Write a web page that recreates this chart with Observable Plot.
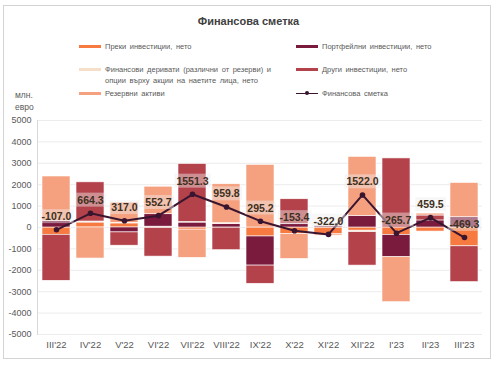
<!DOCTYPE html>
<html>
<head>
<meta charset="utf-8">
<script src="https://cdn.jsdelivr.net/npm/d3@7"></script>
<script src="https://cdn.jsdelivr.net/npm/@observablehq/plot@0.6"></script>
<style>
  body { margin: 0; background: #fff; font-family: "Liberation Sans", Arial, sans-serif; }
  #wrap { position: relative; width: 497px; height: 365px; overflow: hidden; }
  #frame { position: absolute; left: 3px; top: 5px; width: 488px; height: 354px; border: 1px solid #d4d4d4; box-sizing: border-box; }
  #title { position: absolute; left: 0; width: 497px; top: 15px; text-align: center; font-weight: bold; font-size: 11px; color: #404040; }
  .lg { position: absolute; font-size: 7.5px; color: #595959; line-height: 11px; word-spacing: 1.5px; }
  .sw { position: absolute; width: 22px; height: 3px; }
  #unit { position: absolute; left: 15px; top: 89px; font-size: 8.5px; color: #595959; line-height: 12px; }
  #chart { position: absolute; left: 0; top: 110px; }
</style>
</head>
<body>
<div id="wrap">
  <div id="frame"></div>
  <div id="title">Финансова сметка</div>
  <div id="legend"></div>
  <div id="unit">млн.<br>евро</div>
  <div id="chart"></div>
</div>
<script>
const months = ["III'22","IV'22","V'22","VI'22","VII'22","VIII'22","IX'22","X'22","XI'22","XII'22","I'23","II'23","III'23"];
const netValues = [-107.0, 664.3, 317.0, 552.7, 1551.3, 959.8, 295.2, -153.4, -322.0, 1522.0, -265.7, 459.5, -469.3];
const direct = [-340, 230, 190, 40, -100, -10, -420, -300, -320, -150, -350, -190, -880];
const portfolio = [300, 30, -230, 580, 230, 160, -1360, 160, 60, 545, -1040, 330, 480];
const derivatives = [0, 20, 30, -20, 30, 40, 0, 0, 0, -70, 0, 0, 0];
const other = [-2150, 1830, -620, -1340, 2710, -1050, -850, 1160, 0, -1560, 3228, 230, -1670];
const reserves = [2083, -1450, 943, 1287, -1320, 1820, 2925, -1170, -60, 2757, -2100, 90, 1600];
const seriesNames = ["Преки инвестиции, нето", "Портфейлни инвестиции, нето", "Финансови деривати (различни от резерви) и опции върху акции на наетите лица, нето", "Други инвестиции, нето", "Резервни активи"];
const lineName = "Финансова сметка";
const seriesColors = ["#F77A40", "#7A1A3D", "#F5DFC8", "#B4424A", "#F5A07E"];
const lineColor = "#3A1530";
const yTicks = [-5000,-4000,-3000,-2000,-1000,0,1000,2000,3000,4000,5000];

const seriesValues = [direct, portfolio, derivatives, other, reserves];
const rows = [];
seriesNames.forEach((s, si) => months.forEach((m, mi) => rows.push({month: m, series: s, value: seriesValues[si][mi]})));
const netRows = months.map((m, i) => ({month: m, value: netValues[i]}));

// Legend (HTML)
const legend = document.getElementById("legend");
const legendItems = [
  {kind: "bar", color: seriesColors[0], text: seriesNames[0], x: 79, y: 41},
  {kind: "bar", color: seriesColors[1], text: seriesNames[1], x: 296, y: 41},
  {kind: "bar", color: seriesColors[2], text: "Финансови деривати (различни от резерви) и<br>опции върху акции на наетите лица, нето", x: 79, y: 64},
  {kind: "bar", color: seriesColors[3], text: seriesNames[3], x: 296, y: 64},
  {kind: "bar", color: seriesColors[4], text: seriesNames[4], x: 79, y: 88},
  {kind: "line", color: lineColor, text: lineName, x: 296, y: 88}
];
legendItems.forEach(it => {
  const sw = document.createElement("div");
  sw.className = "sw";
  sw.style.left = it.x + "px";
  if (it.kind === "bar") {
    sw.style.top = (it.y + 4) + "px";
    sw.style.background = it.color;
  } else {
    sw.style.top = (it.y + 4.5) + "px";
    sw.style.height = "1.5px";
    sw.style.background = it.color;
    const dot = document.createElement("div");
    dot.style.cssText = `position:absolute;left:9px;top:-1.5px;width:4px;height:4px;border-radius:50%;background:${it.color}`;
    sw.appendChild(dot);
  }
  legend.appendChild(sw);
  const t = document.createElement("div");
  t.className = "lg";
  t.style.left = (it.x + 26) + "px";
  t.style.top = it.y + "px";
  t.innerHTML = it.text;
  legend.appendChild(t);
});

const plot = Plot.plot({
  width: 497,
  height: 255,
  marginTop: 10,
  marginBottom: 31,
  marginLeft: 37,
  marginRight: 15,
  style: {fontFamily: "Liberation Sans, Arial, sans-serif", fontSize: "9px", color: "#595959", background: "transparent"},
  x: {domain: months, paddingInner: 0.18, paddingOuter: 0.09, label: null},
  y: {domain: [-5000, 5000], label: null},
  color: {domain: seriesNames, range: seriesColors},
  marks: [
    Plot.ruleY(yTicks, {stroke: "#ececec", strokeWidth: 1}),
    Plot.frame({anchor: "left", stroke: "#d9d9d9"}),
    Plot.axisY({ticks: yTicks, tickSize: 0, tickPadding: 6, tickFormat: d => String(d), fill: "#595959", fontSize: 9}),
    Plot.axisX({tickSize: 0, tickPadding: 7, fill: "#595959", fontSize: 9.5}),
    Plot.barY(rows, {x: "month", y: "value", fill: "series", stroke: "white", strokeWidth: 0.6}),
    Plot.line(netRows, {x: "month", y: "value", stroke: lineColor, strokeWidth: 2}),
    Plot.dot(netRows, {x: "month", y: "value", fill: lineColor, r: 2.8}),
    Plot.text(netRows, {x: "month", y: "value", text: d => d.value.toFixed(1), dy: -13, fill: "#3e3020", fontWeight: "bold", fontSize: 10.5})
  ]
});
document.getElementById("chart").appendChild(plot);

// translucent boxes behind the value labels
const svg = plot.tagName.toLowerCase() === "svg" ? plot : plot.querySelector("svg");
svg.querySelectorAll('g[aria-label="text"]').forEach(g => {
  g.querySelectorAll("text").forEach(t => {
    const b = t.getBBox();
    const r = document.createElementNS("http://www.w3.org/2000/svg", "rect");
    r.setAttribute("x", b.x - 2);
    r.setAttribute("y", b.y - 1);
    r.setAttribute("width", b.width + 4);
    r.setAttribute("height", b.height + 2);
    r.setAttribute("fill", "#eeeeee");
    r.setAttribute("fill-opacity", "0.45");
    const tr = t.getAttribute("transform");
    if (tr) r.setAttribute("transform", tr);
    g.insertBefore(r, t);
  });
});
</script>
</body>
</html>
